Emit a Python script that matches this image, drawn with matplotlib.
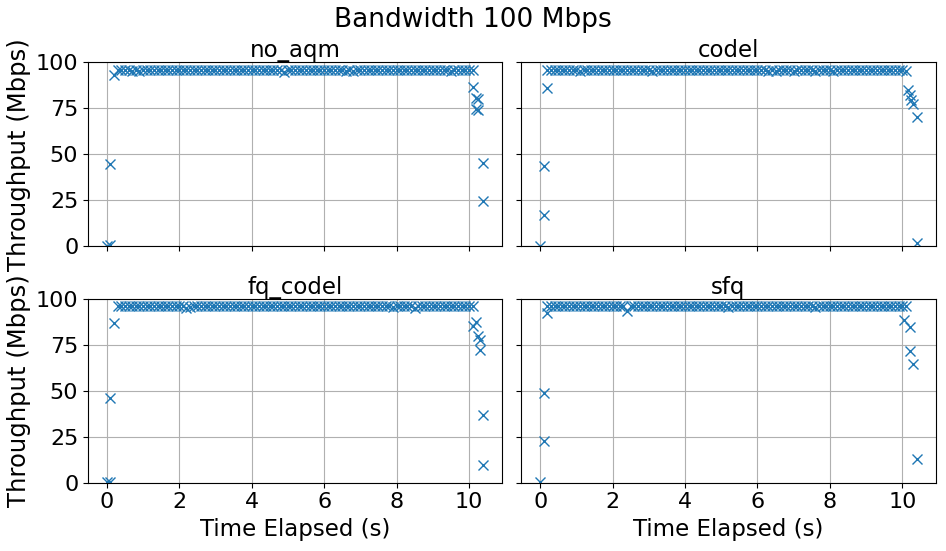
import matplotlib
matplotlib.use("Agg")
import matplotlib.pyplot as plt

# time stamps of the steady part (s), shared by every panel
t_steady = [0.3, 0.4, 0.5, 0.6, 0.7, 0.8, 0.9, 1.0, 1.1, 1.2,
            1.3, 1.4, 1.5, 1.6, 1.7, 1.8, 1.9, 2.0, 2.1, 2.2,
            2.3, 2.4, 2.5, 2.6, 2.7, 2.8, 2.9, 3.0, 3.1, 3.2,
            3.3, 3.4, 3.5, 3.6, 3.7, 3.8, 3.9, 4.0, 4.1, 4.2,
            4.3, 4.4, 4.5, 4.6, 4.7, 4.8, 4.9, 5.0, 5.1, 5.2,
            5.3, 5.4, 5.5, 5.6, 5.7, 5.8, 5.9, 6.0, 6.1, 6.2,
            6.3, 6.4, 6.5, 6.6, 6.7, 6.8, 6.9, 7.0, 7.1, 7.2,
            7.3, 7.4, 7.5, 7.6, 7.7, 7.8, 7.9, 8.0, 8.1, 8.2,
            8.3, 8.4, 8.5, 8.6, 8.7, 8.8, 8.9, 9.0, 9.1, 9.2,
            9.3, 9.4, 9.5, 9.6, 9.7, 9.8, 9.9, 10.0]

no_aqm_steady = [95.7, 95.7, 95.6, 95.7, 95.0, 95.7, 95.2, 95.7, 95.7, 95.7,
                 95.7, 95.7, 95.6, 95.7, 95.7, 95.7, 95.7, 95.6, 95.7, 95.7,
                 95.7, 95.7, 95.7, 95.6, 95.7, 95.7, 95.7, 95.7, 95.7, 95.7,
                 95.7, 95.6, 95.7, 95.7, 95.7, 95.7, 95.7, 95.7, 95.6, 95.7,
                 95.7, 95.7, 95.7, 95.7, 95.7, 95.7, 94.7, 95.7, 95.7, 95.7,
                 95.7, 95.7, 95.6, 95.7, 95.7, 95.7, 95.7, 95.7, 95.7, 95.7,
                 95.7, 95.7, 95.7, 95.3, 95.7, 95.4, 95.7, 95.7, 95.7, 95.7,
                 95.7, 95.7, 95.7, 95.7, 95.6, 95.7, 95.7, 95.7, 95.7, 95.7,
                 95.7, 95.7, 95.7, 95.7, 95.7, 95.7, 95.6, 95.7, 95.7, 95.7,
                 95.7, 95.7, 95.2, 95.7, 95.7, 95.7, 95.7, 95.7]
codel_steady = [95.7, 95.7, 95.7, 95.7, 95.7, 95.7, 95.7, 95.7, 95.2, 95.7,
                95.7, 95.7, 95.7, 95.6, 95.7, 95.7, 95.7, 95.7, 95.7, 95.7,
                95.7, 95.7, 95.7, 95.7, 95.7, 95.7, 95.7, 95.7, 95.0, 95.7,
                95.7, 95.7, 95.6, 95.7, 95.7, 95.7, 95.7, 95.7, 95.7, 95.7,
                95.7, 95.7, 95.7, 95.7, 95.7, 95.6, 95.7, 95.7, 95.7, 95.7,
                95.7, 95.7, 95.7, 95.7, 95.7, 95.7, 95.7, 95.7, 95.7, 95.7,
                95.4, 95.7, 95.3, 95.7, 95.7, 95.7, 95.7, 95.4, 95.7, 95.7,
                95.7, 95.7, 95.7, 95.3, 95.7, 95.7, 95.7, 95.7, 95.5, 95.7,
                95.7, 95.7, 95.7, 95.7, 95.7, 95.7, 95.7, 95.7, 95.7, 95.7,
                95.7, 95.7, 95.7, 95.7, 95.7, 95.7, 95.7, 95.7]
fq_codel_steady = [95.7, 95.7, 95.7, 95.7, 95.7, 95.7, 95.7, 95.7, 95.7, 95.7,
                   95.7, 95.7, 95.7, 95.7, 95.7, 95.7, 95.7, 95.7, 95.7, 95.0,
                   95.3, 95.7, 95.7, 95.7, 95.7, 95.7, 95.7, 95.7, 95.7, 95.7,
                   95.7, 95.7, 95.7, 95.7, 95.7, 95.7, 95.7, 95.7, 95.7, 95.7,
                   95.7, 95.7, 95.7, 95.7, 95.7, 95.7, 95.7, 95.7, 95.7, 95.7,
                   95.7, 95.7, 95.7, 95.7, 95.7, 95.7, 95.7, 95.7, 95.7, 95.7,
                   95.7, 95.7, 95.7, 95.7, 95.7, 95.7, 95.7, 95.7, 95.7, 95.7,
                   95.7, 95.7, 95.7, 95.7, 95.7, 95.7, 95.4, 95.7, 95.7, 95.7,
                   95.7, 95.7, 95.1, 95.7, 95.7, 95.7, 95.7, 95.7, 95.7, 95.7,
                   95.7, 95.7, 95.7, 95.7, 95.7, 95.7, 95.7, 95.7]
sfq_steady = [95.7, 95.7, 95.7, 95.7, 95.7, 95.7, 95.7, 95.7, 95.7, 95.7,
              95.7, 95.7, 95.7, 95.7, 95.7, 95.7, 95.7, 95.7, 95.7, 95.7,
              95.7, 93.2, 95.7, 95.7, 95.7, 95.7, 95.7, 95.7, 95.7, 95.7,
              95.7, 95.7, 95.7, 95.7, 95.7, 95.7, 95.7, 95.7, 95.7, 95.7,
              95.7, 95.7, 95.7, 95.7, 95.7, 95.7, 95.7, 95.7, 95.7, 95.3,
              95.7, 95.7, 95.7, 95.7, 95.7, 95.7, 95.7, 95.7, 95.7, 95.7,
              95.7, 95.7, 95.7, 95.7, 95.7, 95.7, 95.7, 95.7, 95.7, 95.7,
              95.7, 95.7, 95.7, 95.2, 95.7, 95.7, 95.7, 95.7, 95.7, 95.7,
              95.7, 95.7, 95.7, 95.7, 95.7, 95.7, 95.7, 95.7, 95.7, 95.7,
              95.7, 95.7, 95.7, 95.7, 95.7, 95.7, 95.7, 95.7]

# start-up and tail samples
no_aqm_t_edge = [0.0, 0.1, 0.1, 0.2, 10.1, 10.1, 10.2, 10.25, 10.2, 10.25, 10.4, 10.4]
no_aqm_v_edge = [0.3, 0.5, 44.5, 93.3, 95.7, 86.5, 80.7, 79.8, 74.6, 74.0, 45.5, 24.8]
codel_t_edge = [0.0, 0.1, 0.1, 0.2, 0.2, 10.1, 10.15, 10.2, 10.25, 10.3, 10.4, 10.4]
codel_v_edge = [0.3, 17.0, 43.6, 85.8, 95.7, 95.5, 84.8, 82.0, 79.5, 77.6, 70.4, 2.0]
fq_codel_t_edge = [0.0, 0.1, 0.1, 0.2, 10.1, 10.1, 10.2, 10.25, 10.3, 10.3, 10.4, 10.4]
fq_codel_v_edge = [0.3, 0.6, 46.0, 86.5, 95.7, 85.3, 87.3, 79.6, 77.6, 72.3, 37.0, 9.6]
sfq_t_edge = [0.0, 0.1, 0.1, 0.2, 0.2, 10.1, 10.05, 10.2, 10.2, 10.3, 10.4]
sfq_v_edge = [0.3, 22.5, 48.8, 92.4, 95.7, 95.7, 88.3, 84.3, 71.6, 64.5, 12.6]

names = ["no_aqm", "codel", "fq_codel", "sfq"]
steady = [no_aqm_steady, codel_steady, fq_codel_steady, sfq_steady]
t_edges = [no_aqm_t_edge, codel_t_edge, fq_codel_t_edge, sfq_t_edge]
v_edges = [no_aqm_v_edge, codel_v_edge, fq_codel_v_edge, sfq_v_edge]

fig, axs = plt.subplots(2, 2, figsize=(9.46, 5.51), dpi=100, sharex=True, sharey=True)
plt.subplots_adjust(left=0.093, right=0.989, top=0.887, bottom=0.124,
                    wspace=0.046, hspace=0.283)

for ax, name, v, te, ve in zip(axs.flat, names, steady, t_edges, v_edges):
    t_all = sorted(zip(te + t_steady, ve + v))
    ax.plot([p[0] for p in t_all], [p[1] for p in t_all], "x",
            color="tab:blue", markersize=7)
    ax.set_title(name, fontsize=16.5, pad=2)
    ax.grid(True, color="#b0b0b0")
    ax.tick_params(labelsize=16)

axs[0, 0].set_ylim(0, 100)
axs[0, 0].set_yticks([0, 25, 50, 75, 100])
axs[0, 0].set_xticks([0, 2, 4, 6, 8, 10])

for ax in axs[:, 0]:
    ax.set_ylabel("Throughput (Mbps)", fontsize=17.5, labelpad=3)
for ax in axs[1, :]:
    ax.set_xlabel("Time Elapsed (s)", fontsize=16.5)

fig.suptitle("Bandwidth 100 Mbps", fontsize=19, y=0.987)

fig.savefig("out.png", dpi=100)
